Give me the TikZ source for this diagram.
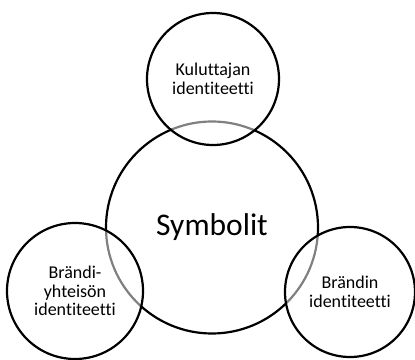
\documentclass[tikz,border=0pt]{standalone}
\usepackage{fontspec}
\setmainfont{Carlito}[Ligatures={NoCommon}]
\begin{document}
\begin{tikzpicture}[x=1pt,y=1pt,
  ring/.style={circle, draw=black, line width=2.2pt, inner sep=0pt, align=center, text=black},
  small/.style={ring, fill=white, fill opacity=0.5, text opacity=1,
    font=\fontsize{18}{18.5}\selectfont}]
\useasboundingbox (0,0) rectangle (415,359);
\node[ring, minimum size=212pt, font=\fontsize{31.5}{36}\selectfont] (sym) at (212,131.5) {Symbolit};
\node[small, minimum size=132pt] (kul) at (213,280) {Kuluttajan\\identiteetti};
\node[small, minimum size=136pt] (yht) at (75,68) {Brändi-\\yhteisön\\identiteetti};
\node[small, minimum size=130pt] (bra) at (350,67) {Brändin\\identiteetti};
\end{tikzpicture}
\end{document}
